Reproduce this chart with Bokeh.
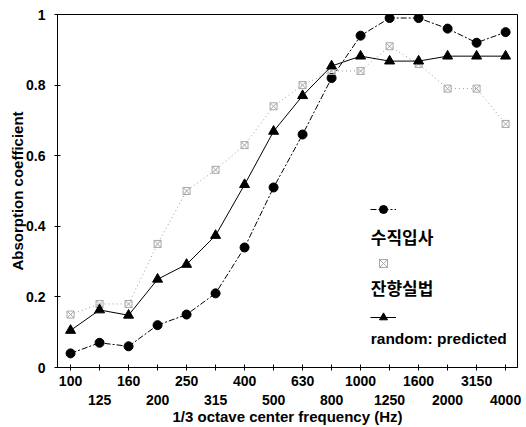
import numpy as np
from bokeh.plotting import figure
from bokeh.models import (Range1d, FixedTicker, LinearAxis, Legend, LegendItem, Label)
from bokeh.core.properties import value
from bokeh.embed import file_html
from bokeh.resources import INLINE

# ---- data ----
freqs = ["100", "125", "160", "200", "250", "315", "400", "500", "630",
         "800", "1000", "1250", "1600", "2000", "3150", "4000"]
normal_incidence = [0.04, 0.07, 0.06, 0.12, 0.15, 0.21, 0.34, 0.51, 0.66,
                    0.82, 0.94, 0.99, 0.99, 0.96, 0.92, 0.95]
reverberation = [0.15, 0.18, 0.18, 0.35, 0.50, 0.56, 0.63, 0.74, 0.80,
                 0.84, 0.84, 0.91, 0.86, 0.79, 0.79, 0.69]
random_predicted = [0.105, 0.163, 0.148, 0.25, 0.292, 0.374, 0.518, 0.669, 0.77,
                    0.854, 0.882, 0.868, 0.868, 0.882, 0.882, 0.882]
series_names = ["수직입사", "잔향실법", "random: predicted"]
y_ticks = [0, 0.2, 0.4, 0.6, 0.8, 1]
y_tick_labels = ["0", "0.2", "0.4", "0.6", "0.8", "1"]

x = list(range(len(freqs)))

FONT = "Liberation Sans"

p = figure(width=526, height=427, output_backend="svg", toolbar_location=None,
           x_range=Range1d(-0.45, 15.41), y_range=Range1d(0, 1),
           min_border_left=57, min_border_right=9, min_border_top=14,
           min_border_bottom=56)
p.grid.visible = False
p.outline_line_color = "black"
p.outline_line_width = 1
p.background_fill_color = "white"
p.border_fill_color = "white"

# y axis
ya = p.yaxis[0]
ya.ticker = FixedTicker(ticks=y_ticks)
ya.major_label_overrides = {t: l for t, l in zip(y_ticks, y_tick_labels)}
ya.minor_tick_line_color = None
ya.major_tick_in = 3
ya.major_tick_out = 3
ya.major_label_standoff = 9
ya.major_label_text_font = FONT
ya.major_label_text_font_style = "bold"
ya.major_label_text_font_size = "14px"
ya.major_label_text_color = "black"
ya.axis_label = "Absorption coefficient"
ya.axis_label_text_font = FONT
ya.axis_label_text_font_style = "bold"
ya.axis_label_text_font_size = "15px"
ya.axis_label_text_color = "black"
ya.axis_label_standoff = -3
ya.axis_line_color = "black"

# x axis, first row of labels (even positions)
xa = p.xaxis[0]
xa.ticker = FixedTicker(ticks=x)
xa.major_label_overrides = {i: (f if i % 2 == 0 else "") for i, f in zip(x, freqs)}
xa.minor_tick_line_color = None
xa.major_tick_in = 3
xa.major_tick_out = 3
xa.major_label_standoff = 5
xa.major_label_text_font = FONT
xa.major_label_text_font_style = "bold"
xa.major_label_text_font_size = "14px"
xa.major_label_text_color = "black"
xa.axis_line_color = "black"

# x axis, second row of labels (odd positions)
xa2 = LinearAxis(ticker=FixedTicker(ticks=[i for i in x if i % 2 == 1]),
                 major_label_overrides={i: f for i, f in zip(x, freqs) if i % 2 == 1},
                 axis_line_color=None, major_tick_line_color=None,
                 minor_tick_line_color=None, major_label_standoff=0,
                 major_label_text_font=FONT, major_label_text_font_style="bold",
                 major_label_text_font_size="14px", major_label_text_color="black",
                 axis_label="1/3 octave center frequency (Hz)",
                 axis_label_text_font=FONT, axis_label_text_font_style="bold",
                 axis_label_text_font_size="15px", axis_label_text_color="black",
                 axis_label_standoff=0)
p.add_layout(xa2, "below")

# series
l1 = p.line(x, normal_incidence, line_color="black", line_width=1, line_dash="6 2 2 2")
s1 = p.scatter(x, normal_incidence, marker="circle", size=9, fill_color="black",
               line_color="black")
l2 = p.line(x, reverberation, line_color="#9a9a9a", line_width=1, line_dash="1 3")
s2 = p.scatter(x, reverberation, marker="square_x", size=7, fill_color=None,
               line_color="#a8a8a8", line_width=1)
l3 = p.line(x, random_predicted, line_color="black", line_width=1)
s3 = p.scatter(x, random_predicted, marker="triangle", size=10, fill_color="black",
               line_color="black")

legend = Legend(items=[LegendItem(label=" ", renderers=[l1, s1]),
                       LegendItem(label=" ", renderers=[s2]),
                       LegendItem(label=" ", renderers=[l3, s3])],
                location=(313, 40), orientation="vertical",
                glyph_width=26, glyph_height=20, label_height=20,
                label_width=1, label_standoff=0, spacing=34,
                padding=0, margin=0, border_line_color=None,
                background_fill_alpha=0)
p.add_layout(legend, "center")

label_y = [0.3725, 0.227, 0.081]
label_fonts = ["Noto Sans CJK KR", "Noto Sans CJK KR", FONT]
label_sizes = ["17px", "17px", "15.5px"]
for name, ly, fnt, fs in zip(series_names, label_y, label_fonts, label_sizes):
    p.add_layout(Label(x=10.35, y=ly, text=name, text_font=fnt,
                       text_font_style="bold", text_font_size=fs,
                       text_color="black", text_align="left",
                       text_baseline="middle"))

open("out.html", "w").write(file_html(p, INLINE))
